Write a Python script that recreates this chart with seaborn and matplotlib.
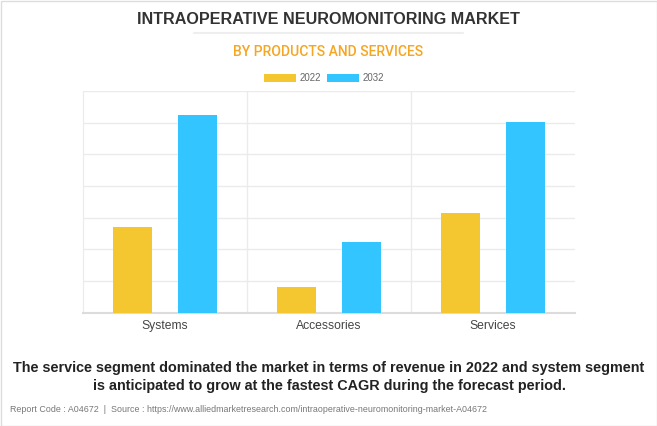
import numpy as np
import pandas as pd
import seaborn as sns
import matplotlib.pyplot as plt
from matplotlib.patches import Patch, Rectangle
from matplotlib.lines import Line2D

# values (no axis labels in the original, units = grid steps)
segments = ["Systems", "Accessories", "Services"]
years = ["2022", "2032"]
values_2022 = [2.71, 0.82, 3.15]
values_2032 = [6.25, 2.23, 6.01]
bar_colors = ["#F4C630", "#33C5FF"]

title = "INTRAOPERATIVE NEUROMONITORING MARKET"
subtitle = "BY PRODUCTS AND SERVICES"
caption = ("The service segment dominated the market in terms of revenue in 2022 and system segment\n"
           "is anticipated to grow at the fastest CAGR during the forecast period.")
footer = ("Report Code : A04672  |  Source : https://www.alliedmarketresearch.com/"
          "intraoperative-neuromonitoring-market-A04672")

df = pd.DataFrame({
    "segment": segments * 2,
    "year": [years[0]] * 3 + [years[1]] * 3,
    "value": values_2022 + values_2032,
})

sns.set_style("white")
plt.rcParams['font.family'] = ['Liberation Sans', 'DejaVu Sans']

W, H = 657, 426
fig = plt.figure(figsize=(W / 100, H / 100), dpi=100)
fig.patch.set_facecolor("white")

ax = fig.add_axes([83 / W, 1 - 312.7 / H, (575 - 83) / W, (312.7 - 91) / H])
sns.barplot(data=df, x="segment", y="value", hue="year", palette=bar_colors,
            saturation=1, width=0.8, gap=0.4, ax=ax, edgecolor="none",
            legend=False, zorder=3)

ax.set_xlim(-0.5, 2.5)
ax.set_ylim(0, 7)
ax.set_xlabel("")
ax.set_ylabel("")
ax.set_yticks(np.arange(0, 8, 1))
ax.set_yticklabels([])
ax.tick_params(axis="y", length=8, color="#ebebeb", width=1)
ax.tick_params(axis="x", length=0, labelsize=8.7, labelcolor="#444444", pad=5)
ax.set_xticks([0.5, 1.5], minor=True)
ax.tick_params(axis="x", which="minor", length=8, color="#ebebeb", width=1)
ax.grid(axis="y", color="#ebebeb", linewidth=1, zorder=0)
ax.grid(axis="x", which="minor", color="#ebebeb", linewidth=1, zorder=0)
for s in ["top", "right"]:
    ax.spines[s].set_visible(False)
ax.spines["left"].set_color("#ebebeb")
ax.spines["bottom"].set_color("#dcdcdc")
ax.spines["bottom"].set_linewidth(1.5)

# titles
fig.text(328 / W, 1 - 19 / H, title, ha="center", va="center", fontsize=11.6,
         fontweight="bold", color="#333333", family=["Liberation Sans", "DejaVu Sans"])
fig.add_artist(Line2D([194 / W, 463 / W], [1 - 33 / H, 1 - 33 / H], color="#eeeeee", linewidth=1.5))
fig.text(328 / W, 1 - 52 / H, subtitle, ha="center", va="center", fontsize=10,
         fontweight="medium", color="#F5A623", family=["Roboto", "DejaVu Sans"])

# legend
handles = [Patch(facecolor=c, edgecolor="none") for c in bar_colors]
fig.legend(handles, years, loc="center", bbox_to_anchor=(324 / W, 1 - 78 / H), ncol=2,
           frameon=False, fontsize=7, handlelength=3.3, handleheight=0.9,
           handletextpad=0.3, columnspacing=0.7, labelcolor="#666666")

# caption and footer
fig.text(329 / W, 1 - 377 / H, caption, ha="center", va="center", fontsize=10.35,
         fontweight="bold", color="#222222", linespacing=1.3)
fig.text(10 / W, 1 - 409 / H, footer, ha="left", va="center", fontsize=6.4,
         color="#777777")

fig.add_artist(Rectangle((0.5 / W, 0.5 / H), 1 - 1 / W, 1 - 1 / H, transform=fig.transFigure,
                         fill=False, edgecolor="#dddddd", linewidth=1))

fig.savefig("out.png", dpi=100, facecolor="white")
